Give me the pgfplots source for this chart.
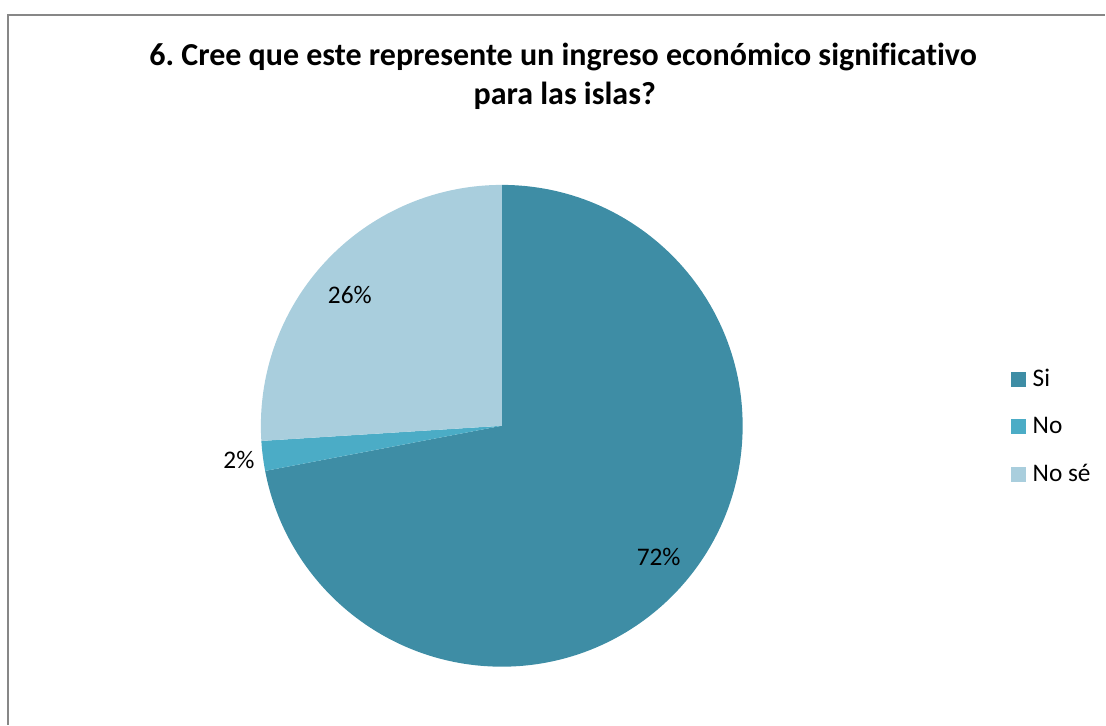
\documentclass[border=0pt]{standalone}
\usepackage{fontspec}
\setmainfont{Carlito}[Ligatures=NoCommon]
\usepackage{pgfplots}
\usepackage{pgfplotstable}
\pgfplotsset{compat=1.18}
\definecolor{siC}{HTML}{3E8DA5}
\definecolor{noC}{HTML}{4BACC6}
\definecolor{nseC}{HTML}{A9CEDD}
\definecolor{frameC}{HTML}{878787}

% share of answers, in percent
\pgfplotstableread{
label value
Si    72
No    2
NoSe  26
}\piedata

\pgfplotstablegetelem{0}{value}\of\piedata \let\vSi\pgfplotsretval
\pgfplotstablegetelem{1}{value}\of\piedata \let\vNo\pgfplotsretval
\pgfplotstablegetelem{2}{value}\of\piedata \let\vNse\pgfplotsretval
% slices run clockwise from 12 o'clock
\pgfmathsetmacro{\aA}{90}
\pgfmathsetmacro{\aB}{\aA-3.6*\vSi}
\pgfmathsetmacro{\aC}{\aB-3.6*\vNo}
\pgfmathsetmacro{\aD}{\aC-3.6*\vNse}
\def\R{180.75pt}

\begin{document}
\begin{tikzpicture}
\begin{axis}[
    scale only axis,
    width=829.5pt, height=543.75pt,
    xmin=0, xmax=1106, ymin=0, ymax=725,
    hide axis, clip=false,
    legend cell align=left,
    legend style={at={(axis cs:1011,359)}, anchor=north west, draw=none, fill=none,
        font=\fontsize{19}{22}\selectfont, row sep=16.5pt, column sep=3pt,
        inner sep=0pt, nodes={inner sep=2.5pt}},
    legend image code/.code={\fill[#1] (0pt,-5.25pt) rectangle (10.5pt,5.25pt);},
]
\path (axis cs:0,0) rectangle (axis cs:1106,725);
\draw[frameC, line width=1.5pt] (axis cs:8,0) -- (axis cs:8,710);
\draw[frameC, line width=0.8pt] (axis cs:7.5,710) -- (axis cs:1106,710);

\fill[siC] (axis cs:502,299) -- ++(\aA:\R) arc[start angle=\aA, end angle=\aB, radius=\R] -- cycle;
\fill[noC] (axis cs:502,299) -- ++(\aB:\R) arc[start angle=\aB, end angle=\aC, radius=\R] -- cycle;
\fill[nseC] (axis cs:502,299) -- ++(\aC:\R) arc[start angle=\aC, end angle=\aD, radius=\R] -- cycle;

\addlegendimage{siC}\addlegendentry{Si}
\addlegendimage{noC}\addlegendentry{No}
\addlegendimage{nseC}\addlegendentry{No sé}

\node[font=\fontsize{19}{22}\selectfont] at (axis cs:659,168) {72\%};
\node[font=\fontsize{19}{22}\selectfont] at (axis cs:239,265) {2\%};
\node[font=\fontsize{19}{22}\selectfont] at (axis cs:350,430) {26\%};

\node[font=\bfseries\fontsize{24}{28}\selectfont, anchor=base] at (axis cs:563.5,659) {6.\ Cree que este represente un ingreso económico significativo};
\node[font=\bfseries\fontsize{24}{28}\selectfont, anchor=base] at (axis cs:565,620) {para las islas?};
\end{axis}
\end{tikzpicture}
\end{document}
